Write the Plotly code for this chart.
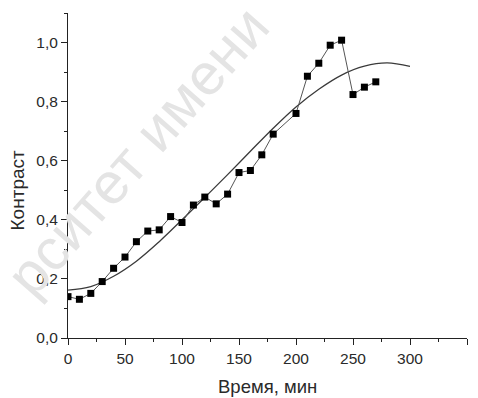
import plotly.graph_objects as go

# Measured data
time_min = [0, 10, 20, 30, 40, 50, 60, 70, 80, 90, 100, 110, 120, 130, 140,
            150, 160, 170, 180, 200, 210, 220, 230, 240, 250, 260, 270]
contrast = [0.140, 0.131, 0.151, 0.191, 0.236, 0.274, 0.326, 0.362, 0.366, 0.411,
            0.391, 0.450, 0.477, 0.454, 0.487, 0.560, 0.567, 0.620, 0.690, 0.760,
            0.886, 0.930, 0.991, 1.008, 0.824, 0.849, 0.867]

# Fitted curve
fit_time = [0, 20, 40, 60, 80, 100, 120, 140, 160, 180, 200, 220, 240, 260, 280, 300]
fit_contrast = [0.162, 0.174, 0.209, 0.260, 0.326, 0.400, 0.476, 0.553, 0.632, 0.710,
                0.782, 0.842, 0.890, 0.920, 0.931, 0.919]

x_ticks = [0, 50, 100, 150, 200, 250, 300, 350]
y_ticks = [0.0, 0.2, 0.4, 0.6, 0.8, 1.0]

FONT = "Arial, Liberation Sans, sans-serif"
TXT = "#2a2a2a"

fig = go.Figure()
fig.add_trace(go.Scatter(
    x=fit_time, y=fit_contrast, mode="lines", line_shape="spline",
    line=dict(color="#3a3a3a", width=1.3), showlegend=False))
fig.add_trace(go.Scatter(
    x=time_min, y=contrast, mode="lines+markers",
    line=dict(color="#555555", width=1),
    marker=dict(symbol="square", size=7, color="black"), showlegend=False))

axis_common = dict(showgrid=False, zeroline=False, showline=True, linecolor="#222",
                   linewidth=1, ticks="outside", ticklen=6, tickwidth=1, tickcolor="#222",
                   tickfont=dict(family=FONT, size=15.5, color=TXT))

fig.update_xaxes(range=[0, 350], tickvals=x_ticks, **axis_common,
                 minor=dict(dtick=25, ticks="outside", ticklen=3, tickcolor="#222"))
fig.update_yaxes(range=[0, 1.1], tickvals=y_ticks, tickformat=".1f", **axis_common,
                 minor=dict(dtick=0.1, ticks="outside", ticklen=3, tickcolor="#222"))

fig.add_annotation(text="Время, мин", xref="paper", yref="paper", x=0.5, y=-0.148,
                   showarrow=False, xanchor="center", yanchor="middle",
                   font=dict(family=FONT, size=18.5, color=TXT))
fig.add_annotation(text="Контраст", xref="paper", yref="paper", x=-0.127, y=0.455,
                   textangle=-90, showarrow=False, xanchor="center", yanchor="middle",
                   font=dict(family=FONT, size=19, color=TXT))

# watermark
fig.add_annotation(text="рситет имени", xref="paper", yref="paper",
                   x=(137 - 68) / 399, y=(338 - 150) / 325, textangle=-48.6,
                   showarrow=False, xanchor="center", yanchor="middle",
                   font=dict(family=FONT, size=58, color="#e4e4e4"))

fig.update_layout(width=478, height=398, margin=dict(l=68, r=11, t=13, b=60),
                  paper_bgcolor="white", plot_bgcolor="white", separators=", ",
                  font=dict(family=FONT))

fig.write_html("out.html")
